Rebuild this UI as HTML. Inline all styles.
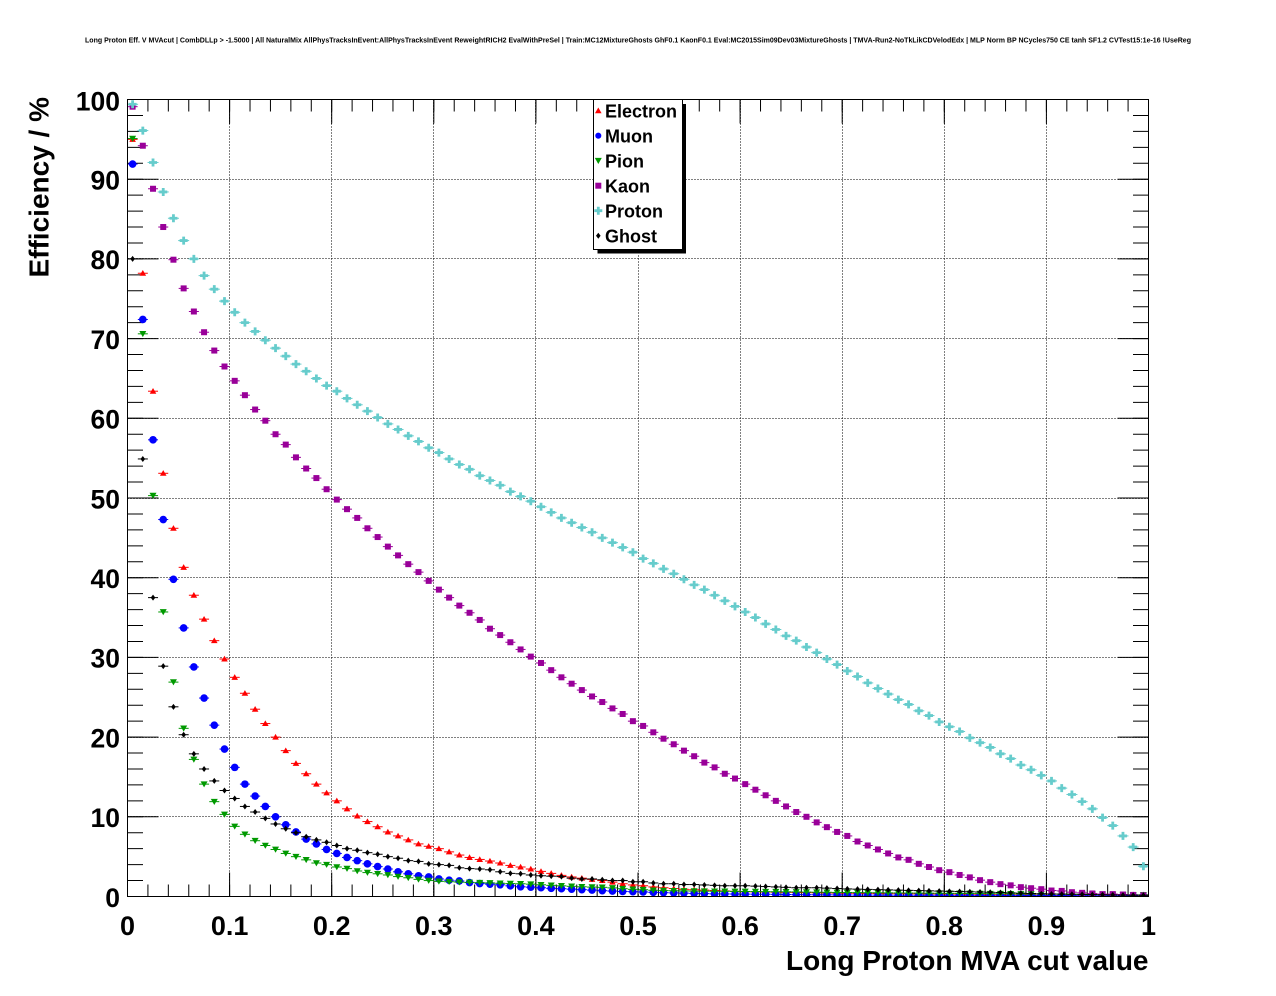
<!DOCTYPE html>
<html><head><meta charset="utf-8"><style>
html,body{margin:0;padding:0;background:#fff;}
svg{display:block;}
text{font-family:"Liberation Sans",Arial,sans-serif;font-weight:bold;fill:#000;}
</style></head><body>
<svg width="1276" height="996" viewBox="0 0 1276 996" xmlns="http://www.w3.org/2000/svg">
<defs>
<path id="sE" d="M0,-3.2L3.3,2.5L-3.3,2.5Z" stroke="none"/>
<circle id="sM" r="3.8" stroke="none"/>
<path id="sP" d="M-3.5,-2.8L3.5,-2.8L0,3.3Z" stroke="none"/>
<rect id="sK" x="-3" y="-3" width="6" height="6" stroke="none"/>
<path id="sR" d="M-1.4,-4h2.8v2.6h2.6v2.8h-2.6v2.6h-2.8v-2.6h-2.6v-2.8h2.6Z" stroke="none"/>
<path id="sG" d="M0,-3L2.3,0L0,3L-2.3,0Z" stroke="none"/>
<g id="eE"><line x1="-5" y1="0" x2="5" y2="0"/><use href="#sE"/></g>
<g id="eM"><line x1="-5" y1="0" x2="5" y2="0"/><use href="#sM"/></g>
<g id="eP"><line x1="-5" y1="0" x2="5" y2="0"/><use href="#sP"/></g>
<g id="eK"><line x1="-5" y1="0" x2="5" y2="0"/><use href="#sK"/></g>
<g id="eR"><line x1="-5.5" y1="0" x2="5.5" y2="0"/><use href="#sR"/></g>
<g id="eG"><line x1="-5" y1="0" x2="5" y2="0"/><use href="#sG"/></g>
</defs>
<rect width="1276" height="996" fill="#fff"/>

<text x="85" y="42.5" font-size="7" textLength="1106" lengthAdjust="spacingAndGlyphs">Long Proton Eff. V MVAcut | CombDLLp &gt; -1.5000 | All NaturalMix AllPhysTracksInEvent:AllPhysTracksInEvent ReweightRICH2 EvalWithPreSel | Train:MC12MixtureGhosts GhF0.1 KaonF0.1 Eval:MC2015Sim09Dev03MixtureGhosts | TMVA-Run2-NoTkLikCDVelodEdx | MLP Norm BP NCycles750 CE tanh SF1.2 CVTest15:1e-16 !UseReg</text>

<!-- grid -->
<g stroke="#000" stroke-width="1" stroke-dasharray="1 2">
<line x1="229.5" y1="99.5" x2="229.5" y2="896.5"/>
<line x1="331.5" y1="99.5" x2="331.5" y2="896.5"/>
<line x1="433.5" y1="99.5" x2="433.5" y2="896.5"/>
<line x1="535.5" y1="99.5" x2="535.5" y2="896.5"/>
<line x1="638.5" y1="99.5" x2="638.5" y2="896.5"/>
<line x1="740.5" y1="99.5" x2="740.5" y2="896.5"/>
<line x1="842.5" y1="99.5" x2="842.5" y2="896.5"/>
<line x1="944.5" y1="99.5" x2="944.5" y2="896.5"/>
<line x1="1046.5" y1="99.5" x2="1046.5" y2="896.5"/>
<line x1="127.5" y1="179.5" x2="1148.5" y2="179.5"/>
<line x1="127.5" y1="258.5" x2="1148.5" y2="258.5"/>
<line x1="127.5" y1="338.5" x2="1148.5" y2="338.5"/>
<line x1="127.5" y1="418.5" x2="1148.5" y2="418.5"/>
<line x1="127.5" y1="498.5" x2="1148.5" y2="498.5"/>
<line x1="127.5" y1="577.5" x2="1148.5" y2="577.5"/>
<line x1="127.5" y1="657.5" x2="1148.5" y2="657.5"/>
<line x1="127.5" y1="737.5" x2="1148.5" y2="737.5"/>
<line x1="127.5" y1="816.5" x2="1148.5" y2="816.5"/>
</g>

<!-- ticks -->
<g stroke="#000">
<line x1="127" y1="890.5" x2="1150" y2="890.5" stroke-width="12" stroke-dasharray="1 19.42"/>
<line x1="127" y1="884.5" x2="1150" y2="884.5" stroke-width="24" stroke-dasharray="1 101.1"/>
<line x1="127" y1="105.5" x2="1150" y2="105.5" stroke-width="12" stroke-dasharray="1 19.42"/>
<line x1="127" y1="111.5" x2="1150" y2="111.5" stroke-width="24" stroke-dasharray="1 101.1"/>
<line x1="135.25" y1="99" x2="135.25" y2="898" stroke-width="15.5" stroke-dasharray="1 14.94"/>
<line x1="143" y1="99" x2="143" y2="898" stroke-width="31" stroke-dasharray="1 78.7"/>
<line x1="1140.75" y1="99" x2="1140.75" y2="898" stroke-width="15.5" stroke-dasharray="1 14.94"/>
<line x1="1133" y1="99" x2="1133" y2="898" stroke-width="31" stroke-dasharray="1 78.7"/>
</g>

<!-- data -->
<svg x="127.5" y="99.5" width="1021" height="797">
<g fill="#ff0000" stroke="#ff0000" stroke-width="1">
<use href="#eE" x="0.5%" y="5.0%"/><use href="#eE" x="1.5%" y="21.8%"/><use href="#eE" x="2.5%" y="36.6%"/><use href="#eE" x="3.5%" y="46.9%"/><use href="#eE" x="4.5%" y="53.8%"/><use href="#eE" x="5.5%" y="58.7%"/><use href="#eE" x="6.5%" y="62.2%"/><use href="#eE" x="7.5%" y="65.2%"/><use href="#eE" x="8.5%" y="67.9%"/><use href="#eE" x="9.5%" y="70.2%"/>
<use href="#eE" x="10.5%" y="72.5%"/><use href="#eE" x="11.5%" y="74.5%"/><use href="#eE" x="12.5%" y="76.5%"/><use href="#eE" x="13.5%" y="78.3%"/><use href="#eE" x="14.5%" y="80.0%"/><use href="#eE" x="15.5%" y="81.7%"/><use href="#eE" x="16.5%" y="83.3%"/><use href="#eE" x="17.5%" y="84.6%"/><use href="#eE" x="18.5%" y="85.9%"/><use href="#eE" x="19.5%" y="87.0%"/>
<use href="#eE" x="20.5%" y="88.0%"/><use href="#eE" x="21.5%" y="89.0%"/><use href="#eE" x="22.5%" y="89.9%"/><use href="#eE" x="23.5%" y="90.6%"/><use href="#eE" x="24.5%" y="91.25%"/><use href="#eE" x="25.5%" y="91.9%"/><use href="#eE" x="26.5%" y="92.4%"/><use href="#eE" x="27.5%" y="92.9%"/><use href="#eE" x="28.5%" y="93.4%"/><use href="#eE" x="29.5%" y="93.7%"/>
<use href="#eE" x="30.5%" y="94.0%"/><use href="#eE" x="31.5%" y="94.4%"/><use href="#eE" x="32.5%" y="94.8%"/><use href="#eE" x="33.5%" y="95.1%"/><use href="#eE" x="34.5%" y="95.35%"/><use href="#eE" x="35.5%" y="95.55%"/><use href="#eE" x="36.5%" y="95.8%"/><use href="#eE" x="37.5%" y="96.1%"/><use href="#eE" x="38.5%" y="96.3%"/><use href="#eE" x="39.5%" y="96.55%"/>
<use href="#eE" x="40.5%" y="96.85%"/><use href="#eE" x="41.5%" y="97.1%"/><use href="#eE" x="42.5%" y="97.35%"/><use href="#eE" x="43.5%" y="97.55%"/><use href="#eE" x="44.5%" y="97.7%"/><use href="#eE" x="45.5%" y="97.85%"/><use href="#eE" x="46.5%" y="98.0%"/><use href="#eE" x="47.5%" y="98.2%"/><use href="#eE" x="48.5%" y="98.4%"/><use href="#eE" x="49.5%" y="98.55%"/>
<use href="#eE" x="50.5%" y="98.65%"/><use href="#eE" x="51.5%" y="98.8%"/><use href="#eE" x="52.5%" y="98.9%"/><use href="#eE" x="53.5%" y="99.0%"/><use href="#eE" x="54.5%" y="99.1%"/><use href="#eE" x="55.5%" y="99.15%"/><use href="#eE" x="56.5%" y="99.2%"/><use href="#eE" x="57.5%" y="99.25%"/><use href="#eE" x="58.5%" y="99.3%"/><use href="#eE" x="59.5%" y="99.35%"/>
<use href="#eE" x="60.5%" y="99.4%"/><use href="#eE" x="61.5%" y="99.42%"/><use href="#eE" x="62.5%" y="99.44%"/><use href="#eE" x="63.5%" y="99.46%"/><use href="#eE" x="64.5%" y="99.48%"/><use href="#eE" x="65.5%" y="99.5%"/><use href="#eE" x="66.5%" y="99.52%"/><use href="#eE" x="67.5%" y="99.54%"/><use href="#eE" x="68.5%" y="99.56%"/><use href="#eE" x="69.5%" y="99.58%"/>
<use href="#eE" x="70.5%" y="99.6%"/><use href="#eE" x="71.5%" y="99.61%"/><use href="#eE" x="72.5%" y="99.62%"/><use href="#eE" x="73.5%" y="99.63%"/><use href="#eE" x="74.5%" y="99.64%"/><use href="#eE" x="75.5%" y="99.65%"/><use href="#eE" x="76.5%" y="99.66%"/><use href="#eE" x="77.5%" y="99.67%"/><use href="#eE" x="78.5%" y="99.68%"/><use href="#eE" x="79.5%" y="99.69%"/>
<use href="#eE" x="80.5%" y="99.7%"/><use href="#eE" x="81.5%" y="99.71%"/><use href="#eE" x="82.5%" y="99.72%"/><use href="#eE" x="83.5%" y="99.73%"/><use href="#eE" x="84.5%" y="99.74%"/><use href="#eE" x="85.5%" y="99.75%"/><use href="#eE" x="86.5%" y="99.78%"/><use href="#eE" x="87.5%" y="99.8%"/><use href="#eE" x="88.5%" y="99.82%"/><use href="#eE" x="89.5%" y="99.84%"/>
<use href="#eE" x="90.5%" y="99.86%"/><use href="#eE" x="91.5%" y="99.88%"/><use href="#eE" x="92.5%" y="99.9%"/><use href="#eE" x="93.5%" y="99.92%"/><use href="#eE" x="94.5%" y="99.94%"/><use href="#eE" x="95.5%" y="99.98%"/><use href="#eE" x="96.5%" y="99.98%"/><use href="#eE" x="97.5%" y="99.98%"/><use href="#eE" x="98.5%" y="99.98%"/><use href="#eE" x="99.5%" y="99.98%"/>
</g>
<g fill="#0000ff" stroke="#0000ff" stroke-width="1">
<use href="#eM" x="0.5%" y="8.1%"/><use href="#eM" x="1.5%" y="27.6%"/><use href="#eM" x="2.5%" y="42.7%"/><use href="#eM" x="3.5%" y="52.7%"/><use href="#eM" x="4.5%" y="60.2%"/><use href="#eM" x="5.5%" y="66.3%"/><use href="#eM" x="6.5%" y="71.2%"/><use href="#eM" x="7.5%" y="75.1%"/><use href="#eM" x="8.5%" y="78.5%"/><use href="#eM" x="9.5%" y="81.5%"/>
<use href="#eM" x="10.5%" y="83.8%"/><use href="#eM" x="11.5%" y="85.9%"/><use href="#eM" x="12.5%" y="87.4%"/><use href="#eM" x="13.5%" y="88.7%"/><use href="#eM" x="14.5%" y="90.0%"/><use href="#eM" x="15.5%" y="91.0%"/><use href="#eM" x="16.5%" y="91.9%"/><use href="#eM" x="17.5%" y="92.8%"/><use href="#eM" x="18.5%" y="93.4%"/><use href="#eM" x="19.5%" y="94.1%"/>
<use href="#eM" x="20.5%" y="94.6%"/><use href="#eM" x="21.5%" y="95.1%"/><use href="#eM" x="22.5%" y="95.5%"/><use href="#eM" x="23.5%" y="95.9%"/><use href="#eM" x="24.5%" y="96.25%"/><use href="#eM" x="25.5%" y="96.55%"/><use href="#eM" x="26.5%" y="96.9%"/><use href="#eM" x="27.5%" y="97.15%"/><use href="#eM" x="28.5%" y="97.4%"/><use href="#eM" x="29.5%" y="97.55%"/>
<use href="#eM" x="30.5%" y="97.8%"/><use href="#eM" x="31.5%" y="97.95%"/><use href="#eM" x="32.5%" y="98.05%"/><use href="#eM" x="33.5%" y="98.25%"/><use href="#eM" x="34.5%" y="98.38%"/><use href="#eM" x="35.5%" y="98.45%"/><use href="#eM" x="36.5%" y="98.53%"/><use href="#eM" x="37.5%" y="98.66%"/><use href="#eM" x="38.5%" y="98.78%"/><use href="#eM" x="39.5%" y="98.83%"/>
<use href="#eM" x="40.5%" y="98.9%"/><use href="#eM" x="41.5%" y="98.98%"/><use href="#eM" x="42.5%" y="99.02%"/><use href="#eM" x="43.5%" y="99.08%"/><use href="#eM" x="44.5%" y="99.14%"/><use href="#eM" x="45.5%" y="99.2%"/><use href="#eM" x="46.5%" y="99.27%"/><use href="#eM" x="47.5%" y="99.32%"/><use href="#eM" x="48.5%" y="99.37%"/><use href="#eM" x="49.5%" y="99.4%"/>
<use href="#eM" x="50.5%" y="99.43%"/><use href="#eM" x="51.5%" y="99.48%"/><use href="#eM" x="52.5%" y="99.52%"/><use href="#eM" x="53.5%" y="99.55%"/><use href="#eM" x="54.5%" y="99.58%"/><use href="#eM" x="55.5%" y="99.61%"/><use href="#eM" x="56.5%" y="99.64%"/><use href="#eM" x="57.5%" y="99.67%"/><use href="#eM" x="58.5%" y="99.68%"/><use href="#eM" x="59.5%" y="99.69%"/>
<use href="#eM" x="60.5%" y="99.7%"/><use href="#eM" x="61.5%" y="99.71%"/><use href="#eM" x="62.5%" y="99.72%"/><use href="#eM" x="63.5%" y="99.73%"/><use href="#eM" x="64.5%" y="99.75%"/><use href="#eM" x="65.5%" y="99.76%"/><use href="#eM" x="66.5%" y="99.77%"/><use href="#eM" x="67.5%" y="99.78%"/><use href="#eM" x="68.5%" y="99.79%"/><use href="#eM" x="69.5%" y="99.8%"/>
<use href="#eM" x="70.5%" y="99.81%"/><use href="#eM" x="71.5%" y="99.82%"/><use href="#eM" x="72.5%" y="99.82%"/><use href="#eM" x="73.5%" y="99.83%"/><use href="#eM" x="74.5%" y="99.83%"/><use href="#eM" x="75.5%" y="99.84%"/><use href="#eM" x="76.5%" y="99.84%"/><use href="#eM" x="77.5%" y="99.85%"/><use href="#eM" x="78.5%" y="99.85%"/><use href="#eM" x="79.5%" y="99.85%"/>
<use href="#eM" x="80.5%" y="99.86%"/><use href="#eM" x="81.5%" y="99.86%"/><use href="#eM" x="82.5%" y="99.86%"/><use href="#eM" x="83.5%" y="99.87%"/><use href="#eM" x="84.5%" y="99.87%"/><use href="#eM" x="85.5%" y="99.87%"/><use href="#eM" x="86.5%" y="99.88%"/><use href="#eM" x="87.5%" y="99.88%"/><use href="#eM" x="88.5%" y="99.88%"/><use href="#eM" x="89.5%" y="99.88%"/>
<use href="#eM" x="90.5%" y="99.89%"/><use href="#eM" x="91.5%" y="99.89%"/><use href="#eM" x="92.5%" y="99.89%"/><use href="#eM" x="93.5%" y="99.89%"/><use href="#eM" x="94.5%" y="99.9%"/><use href="#eM" x="95.5%" y="99.9%"/><use href="#eM" x="96.5%" y="99.9%"/><use href="#eM" x="97.5%" y="99.9%"/><use href="#eM" x="98.5%" y="99.9%"/><use href="#eM" x="99.5%" y="99.9%"/>
</g>
<g fill="#009900" stroke="#009900" stroke-width="1">
<use href="#eP" x="0.5%" y="4.9%"/><use href="#eP" x="1.5%" y="29.4%"/><use href="#eP" x="2.5%" y="49.7%"/><use href="#eP" x="3.5%" y="64.3%"/><use href="#eP" x="4.5%" y="73.1%"/><use href="#eP" x="5.5%" y="78.9%"/><use href="#eP" x="6.5%" y="82.8%"/><use href="#eP" x="7.5%" y="85.9%"/><use href="#eP" x="8.5%" y="88.1%"/><use href="#eP" x="9.5%" y="89.7%"/>
<use href="#eP" x="10.5%" y="91.2%"/><use href="#eP" x="11.5%" y="92.2%"/><use href="#eP" x="12.5%" y="93.0%"/><use href="#eP" x="13.5%" y="93.6%"/><use href="#eP" x="14.5%" y="94.1%"/><use href="#eP" x="15.5%" y="94.6%"/><use href="#eP" x="16.5%" y="95.0%"/><use href="#eP" x="17.5%" y="95.4%"/><use href="#eP" x="18.5%" y="95.8%"/><use href="#eP" x="19.5%" y="96.0%"/>
<use href="#eP" x="20.5%" y="96.3%"/><use href="#eP" x="21.5%" y="96.5%"/><use href="#eP" x="22.5%" y="96.8%"/><use href="#eP" x="23.5%" y="97.0%"/><use href="#eP" x="24.5%" y="97.15%"/><use href="#eP" x="25.5%" y="97.3%"/><use href="#eP" x="26.5%" y="97.5%"/><use href="#eP" x="27.5%" y="97.65%"/><use href="#eP" x="28.5%" y="97.85%"/><use href="#eP" x="29.5%" y="98.0%"/>
<use href="#eP" x="30.5%" y="98.1%"/><use href="#eP" x="31.5%" y="98.15%"/><use href="#eP" x="32.5%" y="98.2%"/><use href="#eP" x="33.5%" y="98.23%"/><use href="#eP" x="34.5%" y="98.26%"/><use href="#eP" x="35.5%" y="98.3%"/><use href="#eP" x="36.5%" y="98.34%"/><use href="#eP" x="37.5%" y="98.38%"/><use href="#eP" x="38.5%" y="98.4%"/><use href="#eP" x="39.5%" y="98.45%"/>
<use href="#eP" x="40.5%" y="98.53%"/><use href="#eP" x="41.5%" y="98.6%"/><use href="#eP" x="42.5%" y="98.66%"/><use href="#eP" x="43.5%" y="98.72%"/><use href="#eP" x="44.5%" y="98.78%"/><use href="#eP" x="45.5%" y="98.82%"/><use href="#eP" x="46.5%" y="98.85%"/><use href="#eP" x="47.5%" y="98.92%"/><use href="#eP" x="48.5%" y="99.02%"/><use href="#eP" x="49.5%" y="99.1%"/>
<use href="#eP" x="50.5%" y="99.15%"/><use href="#eP" x="51.5%" y="99.22%"/><use href="#eP" x="52.5%" y="99.26%"/><use href="#eP" x="53.5%" y="99.28%"/><use href="#eP" x="54.5%" y="99.3%"/><use href="#eP" x="55.5%" y="99.32%"/><use href="#eP" x="56.5%" y="99.33%"/><use href="#eP" x="57.5%" y="99.34%"/><use href="#eP" x="58.5%" y="99.35%"/><use href="#eP" x="59.5%" y="99.36%"/>
<use href="#eP" x="60.5%" y="99.37%"/><use href="#eP" x="61.5%" y="99.38%"/><use href="#eP" x="62.5%" y="99.39%"/><use href="#eP" x="63.5%" y="99.4%"/><use href="#eP" x="64.5%" y="99.41%"/><use href="#eP" x="65.5%" y="99.42%"/><use href="#eP" x="66.5%" y="99.44%"/><use href="#eP" x="67.5%" y="99.46%"/><use href="#eP" x="68.5%" y="99.47%"/><use href="#eP" x="69.5%" y="99.49%"/>
<use href="#eP" x="70.5%" y="99.5%"/><use href="#eP" x="71.5%" y="99.51%"/><use href="#eP" x="72.5%" y="99.52%"/><use href="#eP" x="73.5%" y="99.53%"/><use href="#eP" x="74.5%" y="99.54%"/><use href="#eP" x="75.5%" y="99.55%"/><use href="#eP" x="76.5%" y="99.56%"/><use href="#eP" x="77.5%" y="99.57%"/><use href="#eP" x="78.5%" y="99.58%"/><use href="#eP" x="79.5%" y="99.59%"/>
<use href="#eP" x="80.5%" y="99.6%"/><use href="#eP" x="81.5%" y="99.61%"/><use href="#eP" x="82.5%" y="99.62%"/><use href="#eP" x="83.5%" y="99.63%"/><use href="#eP" x="84.5%" y="99.64%"/><use href="#eP" x="85.5%" y="99.65%"/><use href="#eP" x="86.5%" y="99.66%"/><use href="#eP" x="87.5%" y="99.67%"/><use href="#eP" x="88.5%" y="99.68%"/><use href="#eP" x="89.5%" y="99.69%"/>
<use href="#eP" x="90.5%" y="99.7%"/><use href="#eP" x="91.5%" y="99.71%"/><use href="#eP" x="92.5%" y="99.72%"/><use href="#eP" x="93.5%" y="99.73%"/><use href="#eP" x="94.5%" y="99.74%"/><use href="#eP" x="95.5%" y="99.75%"/><use href="#eP" x="96.5%" y="99.76%"/><use href="#eP" x="97.5%" y="99.77%"/><use href="#eP" x="98.5%" y="99.78%"/><use href="#eP" x="99.5%" y="99.78%"/>
</g>
<g fill="#990099" stroke="#990099" stroke-width="1">
<use href="#eK" x="0.5%" y="0.9%"/><use href="#eK" x="1.5%" y="5.8%"/><use href="#eK" x="2.5%" y="11.2%"/><use href="#eK" x="3.5%" y="16.0%"/><use href="#eK" x="4.5%" y="20.1%"/><use href="#eK" x="5.5%" y="23.7%"/><use href="#eK" x="6.5%" y="26.6%"/><use href="#eK" x="7.5%" y="29.2%"/><use href="#eK" x="8.5%" y="31.5%"/><use href="#eK" x="9.5%" y="33.5%"/>
<use href="#eK" x="10.5%" y="35.3%"/><use href="#eK" x="11.5%" y="37.1%"/><use href="#eK" x="12.5%" y="38.9%"/><use href="#eK" x="13.5%" y="40.3%"/><use href="#eK" x="14.5%" y="42.0%"/><use href="#eK" x="15.5%" y="43.3%"/><use href="#eK" x="16.5%" y="44.9%"/><use href="#eK" x="17.5%" y="46.3%"/><use href="#eK" x="18.5%" y="47.5%"/><use href="#eK" x="19.5%" y="48.9%"/>
<use href="#eK" x="20.5%" y="50.2%"/><use href="#eK" x="21.5%" y="51.4%"/><use href="#eK" x="22.5%" y="52.5%"/><use href="#eK" x="23.5%" y="53.8%"/><use href="#eK" x="24.5%" y="54.9%"/><use href="#eK" x="25.5%" y="56.1%"/><use href="#eK" x="26.5%" y="57.2%"/><use href="#eK" x="27.5%" y="58.3%"/><use href="#eK" x="28.5%" y="59.3%"/><use href="#eK" x="29.5%" y="60.4%"/>
<use href="#eK" x="30.5%" y="61.5%"/><use href="#eK" x="31.5%" y="62.5%"/><use href="#eK" x="32.5%" y="63.5%"/><use href="#eK" x="33.5%" y="64.4%"/><use href="#eK" x="34.5%" y="65.3%"/><use href="#eK" x="35.5%" y="66.4%"/><use href="#eK" x="36.5%" y="67.2%"/><use href="#eK" x="37.5%" y="68.1%"/><use href="#eK" x="38.5%" y="69.0%"/><use href="#eK" x="39.5%" y="69.9%"/>
<use href="#eK" x="40.5%" y="70.7%"/><use href="#eK" x="41.5%" y="71.6%"/><use href="#eK" x="42.5%" y="72.5%"/><use href="#eK" x="43.5%" y="73.3%"/><use href="#eK" x="44.5%" y="74.1%"/><use href="#eK" x="45.5%" y="74.9%"/><use href="#eK" x="46.5%" y="75.6%"/><use href="#eK" x="47.5%" y="76.4%"/><use href="#eK" x="48.5%" y="77.1%"/><use href="#eK" x="49.5%" y="78.0%"/>
<use href="#eK" x="50.5%" y="78.6%"/><use href="#eK" x="51.5%" y="79.4%"/><use href="#eK" x="52.5%" y="80.2%"/><use href="#eK" x="53.5%" y="80.9%"/><use href="#eK" x="54.5%" y="81.7%"/><use href="#eK" x="55.5%" y="82.4%"/><use href="#eK" x="56.5%" y="83.2%"/><use href="#eK" x="57.5%" y="83.8%"/><use href="#eK" x="58.5%" y="84.6%"/><use href="#eK" x="59.5%" y="85.2%"/>
<use href="#eK" x="60.5%" y="85.9%"/><use href="#eK" x="61.5%" y="86.6%"/><use href="#eK" x="62.5%" y="87.3%"/><use href="#eK" x="63.5%" y="88.0%"/><use href="#eK" x="64.5%" y="88.7%"/><use href="#eK" x="65.5%" y="89.4%"/><use href="#eK" x="66.5%" y="90.0%"/><use href="#eK" x="67.5%" y="90.7%"/><use href="#eK" x="68.5%" y="91.3%"/><use href="#eK" x="69.5%" y="91.9%"/>
<use href="#eK" x="70.5%" y="92.4%"/><use href="#eK" x="71.5%" y="93.1%"/><use href="#eK" x="72.5%" y="93.6%"/><use href="#eK" x="73.5%" y="94.1%"/><use href="#eK" x="74.5%" y="94.6%"/><use href="#eK" x="75.5%" y="95.1%"/><use href="#eK" x="76.5%" y="95.4%"/><use href="#eK" x="77.5%" y="95.9%"/><use href="#eK" x="78.5%" y="96.3%"/><use href="#eK" x="79.5%" y="96.7%"/>
<use href="#eK" x="80.5%" y="96.95%"/><use href="#eK" x="81.5%" y="97.3%"/><use href="#eK" x="82.5%" y="97.6%"/><use href="#eK" x="83.5%" y="97.95%"/><use href="#eK" x="84.5%" y="98.2%"/><use href="#eK" x="85.5%" y="98.45%"/><use href="#eK" x="86.5%" y="98.6%"/><use href="#eK" x="87.5%" y="98.83%"/><use href="#eK" x="88.5%" y="98.96%"/><use href="#eK" x="89.5%" y="99.08%"/>
<use href="#eK" x="90.5%" y="99.25%"/><use href="#eK" x="91.5%" y="99.3%"/><use href="#eK" x="92.5%" y="99.46%"/><use href="#eK" x="93.5%" y="99.54%"/><use href="#eK" x="94.5%" y="99.62%"/><use href="#eK" x="95.5%" y="99.7%"/><use href="#eK" x="96.5%" y="99.7%"/><use href="#eK" x="97.5%" y="99.75%"/><use href="#eK" x="98.5%" y="99.8%"/><use href="#eK" x="99.5%" y="99.85%"/>
</g>
<g fill="#66cccc" stroke="#66cccc" stroke-width="1">
<use href="#eR" x="0.5%" y="0.6%"/><use href="#eR" x="1.5%" y="3.9%"/><use href="#eR" x="2.5%" y="7.9%"/><use href="#eR" x="3.5%" y="11.6%"/><use href="#eR" x="4.5%" y="14.9%"/><use href="#eR" x="5.5%" y="17.7%"/><use href="#eR" x="6.5%" y="20.0%"/><use href="#eR" x="7.5%" y="22.1%"/><use href="#eR" x="8.5%" y="23.8%"/><use href="#eR" x="9.5%" y="25.3%"/>
<use href="#eR" x="10.5%" y="26.7%"/><use href="#eR" x="11.5%" y="28.0%"/><use href="#eR" x="12.5%" y="29.1%"/><use href="#eR" x="13.5%" y="30.2%"/><use href="#eR" x="14.5%" y="31.2%"/><use href="#eR" x="15.5%" y="32.2%"/><use href="#eR" x="16.5%" y="33.2%"/><use href="#eR" x="17.5%" y="34.1%"/><use href="#eR" x="18.5%" y="35.0%"/><use href="#eR" x="19.5%" y="35.9%"/>
<use href="#eR" x="20.5%" y="36.6%"/><use href="#eR" x="21.5%" y="37.5%"/><use href="#eR" x="22.5%" y="38.3%"/><use href="#eR" x="23.5%" y="39.1%"/><use href="#eR" x="24.5%" y="39.9%"/><use href="#eR" x="25.5%" y="40.7%"/><use href="#eR" x="26.5%" y="41.4%"/><use href="#eR" x="27.5%" y="42.2%"/><use href="#eR" x="28.5%" y="42.9%"/><use href="#eR" x="29.5%" y="43.7%"/>
<use href="#eR" x="30.5%" y="44.3%"/><use href="#eR" x="31.5%" y="45.1%"/><use href="#eR" x="32.5%" y="45.8%"/><use href="#eR" x="33.5%" y="46.4%"/><use href="#eR" x="34.5%" y="47.2%"/><use href="#eR" x="35.5%" y="47.8%"/><use href="#eR" x="36.5%" y="48.4%"/><use href="#eR" x="37.5%" y="49.2%"/><use href="#eR" x="38.5%" y="49.8%"/><use href="#eR" x="39.5%" y="50.4%"/>
<use href="#eR" x="40.5%" y="51.1%"/><use href="#eR" x="41.5%" y="51.8%"/><use href="#eR" x="42.5%" y="52.5%"/><use href="#eR" x="43.5%" y="53.1%"/><use href="#eR" x="44.5%" y="53.7%"/><use href="#eR" x="45.5%" y="54.3%"/><use href="#eR" x="46.5%" y="55.0%"/><use href="#eR" x="47.5%" y="55.6%"/><use href="#eR" x="48.5%" y="56.2%"/><use href="#eR" x="49.5%" y="56.8%"/>
<use href="#eR" x="50.5%" y="57.6%"/><use href="#eR" x="51.5%" y="58.2%"/><use href="#eR" x="52.5%" y="58.9%"/><use href="#eR" x="53.5%" y="59.5%"/><use href="#eR" x="54.5%" y="60.2%"/><use href="#eR" x="55.5%" y="60.9%"/><use href="#eR" x="56.5%" y="61.5%"/><use href="#eR" x="57.5%" y="62.2%"/><use href="#eR" x="58.5%" y="62.9%"/><use href="#eR" x="59.5%" y="63.6%"/>
<use href="#eR" x="60.5%" y="64.3%"/><use href="#eR" x="61.5%" y="65.0%"/><use href="#eR" x="62.5%" y="65.8%"/><use href="#eR" x="63.5%" y="66.5%"/><use href="#eR" x="64.5%" y="67.3%"/><use href="#eR" x="65.5%" y="67.9%"/><use href="#eR" x="66.5%" y="68.7%"/><use href="#eR" x="67.5%" y="69.4%"/><use href="#eR" x="68.5%" y="70.2%"/><use href="#eR" x="69.5%" y="70.9%"/>
<use href="#eR" x="70.5%" y="71.7%"/><use href="#eR" x="71.5%" y="72.4%"/><use href="#eR" x="72.5%" y="73.2%"/><use href="#eR" x="73.5%" y="73.9%"/><use href="#eR" x="74.5%" y="74.6%"/><use href="#eR" x="75.5%" y="75.3%"/><use href="#eR" x="76.5%" y="75.9%"/><use href="#eR" x="77.5%" y="76.7%"/><use href="#eR" x="78.5%" y="77.3%"/><use href="#eR" x="79.5%" y="78.1%"/>
<use href="#eR" x="80.5%" y="78.7%"/><use href="#eR" x="81.5%" y="79.3%"/><use href="#eR" x="82.5%" y="80.1%"/><use href="#eR" x="83.5%" y="80.7%"/><use href="#eR" x="84.5%" y="81.3%"/><use href="#eR" x="85.5%" y="82.1%"/><use href="#eR" x="86.5%" y="82.7%"/><use href="#eR" x="87.5%" y="83.5%"/><use href="#eR" x="88.5%" y="84.1%"/><use href="#eR" x="89.5%" y="84.8%"/>
<use href="#eR" x="90.5%" y="85.5%"/><use href="#eR" x="91.5%" y="86.4%"/><use href="#eR" x="92.5%" y="87.2%"/><use href="#eR" x="93.5%" y="88.1%"/><use href="#eR" x="94.5%" y="89.0%"/><use href="#eR" x="95.5%" y="90.1%"/><use href="#eR" x="96.5%" y="91.1%"/><use href="#eR" x="97.5%" y="92.4%"/><use href="#eR" x="98.5%" y="93.8%"/><use href="#eR" x="99.5%" y="96.2%"/>
</g>
<g fill="#000000" stroke="#000000" stroke-width="1">
<use href="#eG" x="0.5%" y="20.0%"/><use href="#eG" x="1.5%" y="45.1%"/><use href="#eG" x="2.5%" y="62.5%"/><use href="#eG" x="3.5%" y="71.1%"/><use href="#eG" x="4.5%" y="76.2%"/><use href="#eG" x="5.5%" y="79.7%"/><use href="#eG" x="6.5%" y="82.1%"/><use href="#eG" x="7.5%" y="84.0%"/><use href="#eG" x="8.5%" y="85.5%"/><use href="#eG" x="9.5%" y="86.7%"/>
<use href="#eG" x="10.5%" y="87.7%"/><use href="#eG" x="11.5%" y="88.7%"/><use href="#eG" x="12.5%" y="89.4%"/><use href="#eG" x="13.5%" y="90.2%"/><use href="#eG" x="14.5%" y="90.9%"/><use href="#eG" x="15.5%" y="91.5%"/><use href="#eG" x="16.5%" y="92.0%"/><use href="#eG" x="17.5%" y="92.5%"/><use href="#eG" x="18.5%" y="92.9%"/><use href="#eG" x="19.5%" y="93.2%"/>
<use href="#eG" x="20.5%" y="93.6%"/><use href="#eG" x="21.5%" y="94.0%"/><use href="#eG" x="22.5%" y="94.2%"/><use href="#eG" x="23.5%" y="94.5%"/><use href="#eG" x="24.5%" y="94.7%"/><use href="#eG" x="25.5%" y="95.0%"/><use href="#eG" x="26.5%" y="95.2%"/><use href="#eG" x="27.5%" y="95.5%"/><use href="#eG" x="28.5%" y="95.6%"/><use href="#eG" x="29.5%" y="95.9%"/>
<use href="#eG" x="30.5%" y="96.0%"/><use href="#eG" x="31.5%" y="96.1%"/><use href="#eG" x="32.5%" y="96.4%"/><use href="#eG" x="33.5%" y="96.5%"/><use href="#eG" x="34.5%" y="96.55%"/><use href="#eG" x="35.5%" y="96.65%"/><use href="#eG" x="36.5%" y="96.9%"/><use href="#eG" x="37.5%" y="97.1%"/><use href="#eG" x="38.5%" y="97.15%"/><use href="#eG" x="39.5%" y="97.3%"/>
<use href="#eG" x="40.5%" y="97.4%"/><use href="#eG" x="41.5%" y="97.45%"/><use href="#eG" x="42.5%" y="97.5%"/><use href="#eG" x="43.5%" y="97.7%"/><use href="#eG" x="44.5%" y="97.8%"/><use href="#eG" x="45.5%" y="97.8%"/><use href="#eG" x="46.5%" y="97.9%"/><use href="#eG" x="47.5%" y="98.0%"/><use href="#eG" x="48.5%" y="98.0%"/><use href="#eG" x="49.5%" y="98.15%"/>
<use href="#eG" x="50.5%" y="98.15%"/><use href="#eG" x="51.5%" y="98.3%"/><use href="#eG" x="52.5%" y="98.4%"/><use href="#eG" x="53.5%" y="98.4%"/><use href="#eG" x="54.5%" y="98.5%"/><use href="#eG" x="55.5%" y="98.5%"/><use href="#eG" x="56.5%" y="98.55%"/><use href="#eG" x="57.5%" y="98.6%"/><use href="#eG" x="58.5%" y="98.65%"/><use href="#eG" x="59.5%" y="98.65%"/>
<use href="#eG" x="60.5%" y="98.65%"/><use href="#eG" x="61.5%" y="98.7%"/><use href="#eG" x="62.5%" y="98.75%"/><use href="#eG" x="63.5%" y="98.8%"/><use href="#eG" x="64.5%" y="98.85%"/><use href="#eG" x="65.5%" y="98.9%"/><use href="#eG" x="66.5%" y="98.9%"/><use href="#eG" x="67.5%" y="98.9%"/><use href="#eG" x="68.5%" y="98.95%"/><use href="#eG" x="69.5%" y="99.0%"/>
<use href="#eG" x="70.5%" y="99.05%"/><use href="#eG" x="71.5%" y="99.08%"/><use href="#eG" x="72.5%" y="99.11%"/><use href="#eG" x="73.5%" y="99.14%"/><use href="#eG" x="74.5%" y="99.17%"/><use href="#eG" x="75.5%" y="99.2%"/><use href="#eG" x="76.5%" y="99.23%"/><use href="#eG" x="77.5%" y="99.26%"/><use href="#eG" x="78.5%" y="99.29%"/><use href="#eG" x="79.5%" y="99.32%"/>
<use href="#eG" x="80.5%" y="99.35%"/><use href="#eG" x="81.5%" y="99.38%"/><use href="#eG" x="82.5%" y="99.41%"/><use href="#eG" x="83.5%" y="99.44%"/><use href="#eG" x="84.5%" y="99.47%"/><use href="#eG" x="85.5%" y="99.5%"/><use href="#eG" x="86.5%" y="99.54%"/><use href="#eG" x="87.5%" y="99.58%"/><use href="#eG" x="88.5%" y="99.62%"/><use href="#eG" x="89.5%" y="99.65%"/>
<use href="#eG" x="90.5%" y="99.68%"/><use href="#eG" x="91.5%" y="99.7%"/><use href="#eG" x="92.5%" y="99.72%"/><use href="#eG" x="93.5%" y="99.74%"/><use href="#eG" x="94.5%" y="99.76%"/><use href="#eG" x="95.5%" y="99.78%"/><use href="#eG" x="96.5%" y="99.8%"/><use href="#eG" x="97.5%" y="99.82%"/><use href="#eG" x="98.5%" y="99.84%"/><use href="#eG" x="99.5%" y="99.85%"/>
</g>
</svg>

<!-- frame -->
<rect x="127.5" y="99.5" width="1021" height="797" fill="none" stroke="#000" stroke-width="1"/>

<!-- x labels -->
<g font-size="27" text-anchor="middle">
<text x="127.5" y="935">0</text>
<text x="229.6" y="935">0.1</text>
<text x="331.7" y="935">0.2</text>
<text x="433.8" y="935">0.3</text>
<text x="535.9" y="935">0.4</text>
<text x="638" y="935">0.5</text>
<text x="740.1" y="935">0.6</text>
<text x="842.2" y="935">0.7</text>
<text x="944.3" y="935">0.8</text>
<text x="1046.4" y="935">0.9</text>
<text x="1148.5" y="935">1</text>
</g>
<!-- y labels -->
<g font-size="26.5" text-anchor="end">
<text x="120" y="110.7">100</text>
<text x="120" y="189.5">90</text>
<text x="120" y="269.2">80</text>
<text x="120" y="348.9">70</text>
<text x="120" y="428.6">60</text>
<text x="120" y="508.3">50</text>
<text x="120" y="588">40</text>
<text x="120" y="667.7">30</text>
<text x="120" y="747.4">20</text>
<text x="120" y="827.1">10</text>
<text x="120" y="906.8">0</text>
</g>

<text x="1148.5" y="970" font-size="28" text-anchor="end">Long Proton MVA cut value</text>
<text transform="translate(48.3,97) rotate(-90)" font-size="28" text-anchor="end">Efficiency / %</text>

<!-- legend -->
<rect x="597.5" y="104" width="88.5" height="149.5" fill="#000"/>
<rect x="593.5" y="99.5" width="89" height="150" fill="#fff" stroke="#000" stroke-width="1"/>
<use href="#sE" x="598.3" y="110.7" fill="#ff0000"/>
<use href="#sM" x="598.3" y="135.7" fill="#0000ff" transform="translate(598.3,135.7) scale(0.8) translate(-598.3,-135.7)"/>
<use href="#sP" x="598.3" y="160.7" fill="#009900"/>
<use href="#sK" x="598.3" y="185.7" fill="#990099"/>
<use href="#sR" x="598.3" y="210.7" fill="#66cccc"/>
<use href="#sG" x="598.3" y="235.7" fill="#000"/>
<g font-size="18">
<text x="605" y="117.3">Electron</text>
<text x="605" y="142.3">Muon</text>
<text x="605" y="167.3">Pion</text>
<text x="605" y="192.3">Kaon</text>
<text x="605" y="217.3">Proton</text>
<text x="605" y="242.3">Ghost</text>
</g>
</svg>
</body></html>
